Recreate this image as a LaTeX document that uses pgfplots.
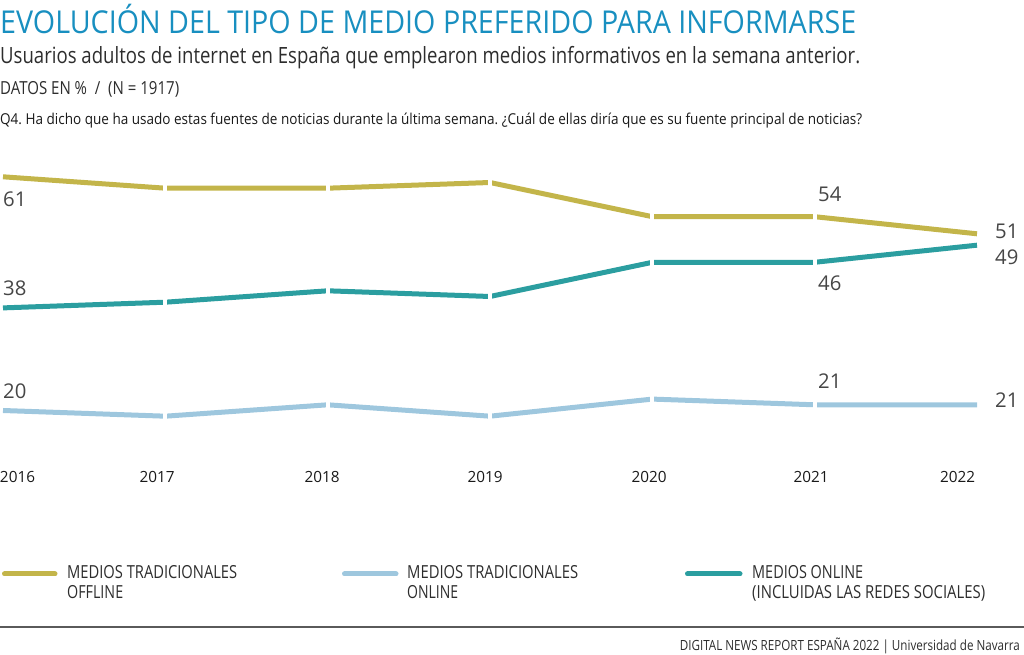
\documentclass[border=0pt]{standalone}
\usepackage{fontspec}
\setmainfont{Open Sans}
\usepackage{graphicx}
\usepackage{pgfplots}
\pgfplotsset{compat=1.18}
\frenchspacing
\definecolor{titleblue}{RGB}{24,143,192}
\definecolor{olivec}{RGB}{195,181,74}
\definecolor{tealc}{RGB}{43,158,160}
\definecolor{lbluec}{RGB}{158,199,222}
\definecolor{txt}{RGB}{45,45,45}
\definecolor{numc}{RGB}{70,70,70}
\definecolor{rulec}{RGB}{90,90,90}
\newsavebox\fitb
\newcommand\fitw[2]{\sbox\fitb{#2}\pgfmathsetmacro\fitf{#1/\the\wd\fitb}\scalebox{\fitf}[1]{\usebox\fitb}}
\begin{document}
\begin{tikzpicture}
\useasboundingbox (0pt,0pt) rectangle (1024pt,655pt);
% titles
\node[anchor=base west, inner sep=0, text=titleblue] at (0pt,621pt) {\fitw{856}{\fontsize{31.5}{36}\selectfont EVOLUCIÓN DEL TIPO DE MEDIO PREFERIDO PARA INFORMARSE}};
\node[anchor=base west, inner sep=0, text=txt] at (0pt,591pt) {\fitw{860}{\fontsize{22.4}{26}\selectfont Usuarios adultos de internet en España que emplearon medios informativos en la semana anterior.}};
\node[anchor=base west, inner sep=0, text=txt] at (0pt,560pt) {\fitw{179}{\fontsize{18}{22}\selectfont DATOS EN \%\ \ /\ \ (N = 1917)}};
\node[anchor=base west, inner sep=0, text=black!90] at (0pt,530pt) {\fitw{862}{\fontsize{15}{18}\selectfont Q4. Ha dicho que ha usado estas fuentes de noticias durante la última semana. ¿Cuál de ellas diría que es su fuente principal de noticias?}};
% chart
\begin{axis}[at={(3pt,187.5pt)}, anchor=south west, scale only axis,
  width=974pt, height=313.5pt, xmin=2016, xmax=2022, ymin=10, ymax=65,
  hide axis, clip=false]
\addplot[olivec, line width=5pt, mark=|, mark size=6pt, mark indices={2,3,4,5,6},
  mark options={draw=white, line width=4pt, solid}] coordinates {
  (2016,61) (2017,59) (2018,59) (2019,60) (2020,54) (2021,54) (2022,51)};
\addplot[tealc, line width=5pt, mark=|, mark size=6pt, mark indices={2,3,4,5,6},
  mark options={draw=white, line width=4pt, solid}] coordinates {
  (2016,38) (2017,39) (2018,41) (2019,40) (2020,46) (2021,46) (2022,49)};
\addplot[lbluec, line width=5pt, mark=|, mark size=6pt, mark indices={2,3,4,5,6},
  mark options={draw=white, line width=4pt, solid}] coordinates {
  (2016,20) (2017,19) (2018,21) (2019,19) (2020,22) (2021,21) (2022,21)};
\end{axis}
% x labels
\foreach \x/\l in {17.5/2016,157/2017,322/2018,485/2019,649/2020,811/2021,957.5/2022}
  \node[anchor=base, inner sep=0, text=black!90] at (\x pt,172pt) {\fitw{35}{\fontsize{15.4}{18}\selectfont \l}};
% value labels
\foreach \x/\y/\l in {3/456/61, 3/367/38, 3/264/20, 818/461/54, 818/372/46, 818/274/21, 995/424/51, 995/398/49, 995/255/21}
  \node[anchor=west, inner sep=0, text=numc] at (\x pt,\y pt) {\fontsize{20.3}{24}\selectfont \l};
% legend
\draw[olivec, line width=5pt, line cap=round] (4.5pt,81pt) -- (55pt,81pt);
\draw[lbluec, line width=5pt, line cap=round] (344.5pt,81pt) -- (396pt,81pt);
\draw[tealc, line width=5pt, line cap=round] (687.5pt,81pt) -- (740pt,81pt);
\node[anchor=base west, inner sep=0, text=txt] at (67pt,76pt) {\fitw{170}{\fontsize{18}{22}\selectfont MEDIOS TRADICIONALES}};
\node[anchor=base west, inner sep=0, text=txt] at (67pt,56pt) {\fitw{56}{\fontsize{18}{22}\selectfont OFFLINE}};
\node[anchor=base west, inner sep=0, text=txt] at (407pt,76pt) {\fitw{171}{\fontsize{18}{22}\selectfont MEDIOS TRADICIONALES}};
\node[anchor=base west, inner sep=0, text=txt] at (407pt,56pt) {\fitw{51}{\fontsize{18}{22}\selectfont ONLINE}};
\node[anchor=base west, inner sep=0, text=txt] at (752pt,76pt) {\fitw{111}{\fontsize{18}{22}\selectfont MEDIOS ONLINE}};
\node[anchor=base west, inner sep=0, text=txt] at (752pt,56pt) {\fitw{233}{\fontsize{18}{22}\selectfont (INCLUIDAS LAS REDES SOCIALES)}};
% footer
\draw[rulec, line width=1.5pt] (0pt,28pt) -- (1024pt,28pt);
\node[anchor=base east, inner sep=0, text=txt] at (1020pt,5pt) {\fitw{340}{\fontsize{14}{17}\selectfont DIGITAL NEWS REPORT ESPAÑA 2022 | Universidad de Navarra}};
\end{tikzpicture}
\end{document}
